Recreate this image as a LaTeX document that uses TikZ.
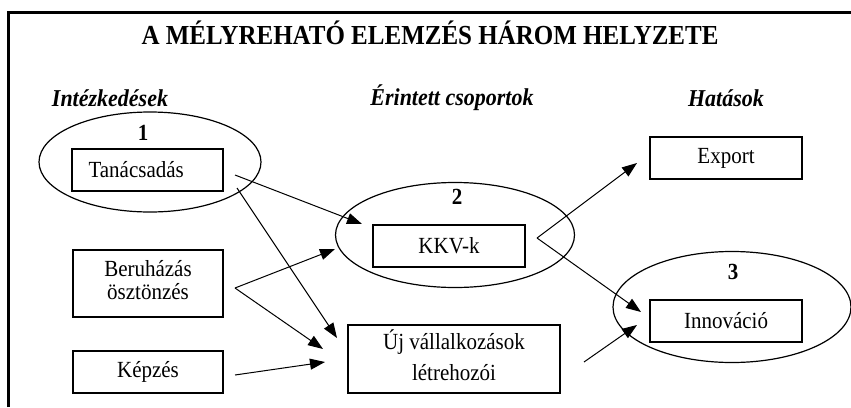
\documentclass[tikz,border=0pt]{standalone}
\usepackage{fontspec}
\usepackage{graphicx}
\setmainfont{Liberation Serif}
\usetikzlibrary{shapes.geometric,arrows.meta}
% slightly tall lettering, one or more centred lines
\newcommand{\tallc}[1]{\scalebox{1}[1.1]{\begin{tabular}{@{}c@{}}#1\end{tabular}}}
\newcommand{\talll}[1]{\scalebox{1}[1.1]{#1}}
\begin{document}
\begin{tikzpicture}[x=1pt,y=-1pt,
  body/.style={font=\fontsize{21}{20}\selectfont},
  heading/.style={font=\fontsize{22}{25}\selectfont\bfseries\itshape},
  numlabel/.style={font=\fontsize{21}{25}\selectfont\bfseries},
  box/.style={draw, line width=1.2pt, rectangle, inner sep=0pt, body, align=center},
  group/.style={draw, line width=1.2pt, ellipse, inner sep=0pt},
  link/.style={line width=1pt, -{Triangle[length=15pt,width=11pt]}}
]
\useasboundingbox (0,0) rectangle (851,407);
\fill[white] (0,0) rectangle (851,407);

% open frame: top and left edges only
\coordinate (fbl) at (8,407);
\coordinate (ftl) at (8,12);
\coordinate (ftr) at (851,12);
\draw[line width=3pt] (fbl) -- (ftl) -- (ftr);

% title and column headings
\node[font=\fontsize{25}{30}\selectfont\bfseries] (title) at (430,33) {\talll{A MÉLYREHATÓ ELEMZÉS HÁROM HELYZETE}};
\node[heading] (hmeasures) at (110,98) {\talll{Intézkedések}};
\node[heading] (hgroups) at (452,98) {\talll{Érintett csoportok}};
\node[heading] (heffects) at (726,98) {\talll{Hatások}};

% the three situations
\node[group, minimum width=222pt, minimum height=100pt] (e1) at (150,162) {};
\node[group, minimum width=239pt, minimum height=105pt] (e2) at (455,235) {};
\node[group, minimum width=238pt, minimum height=111pt] (e3) at (732,307) {};
\node[numlabel] (n1) at (143,133) {\talll{1}};
\node[numlabel] (n2) at (457,197) {\talll{2}};
\node[numlabel] (n3) at (733,272) {\talll{3}};

% measures
\node[box, minimum height=42pt, text width=118pt, align=left, inner xsep=16.5pt] (tan) at (147.5,170) {\talll{Tanácsadás}};
\node[box, minimum width=150pt, minimum height=67pt] (ber) at (148,283.5) {\tallc{Beruházás\\ösztönzés}};
\node[box, minimum width=150pt, minimum height=42pt] (kep) at (148,372) {\talll{Képzés}};

% affected groups
\node[box, minimum width=152pt, minimum height=42pt] (kkv) at (449,246) {\talll{KKV-k}};
\node[box, minimum width=212pt, minimum height=68pt, font=\fontsize{21}{28}\selectfont] (uj) at (454,359) {\tallc{Új vállalkozások\\létrehozói}};

% effects
\node[box, minimum width=152pt, minimum height=42pt] (exp) at (726,158) {\talll{Export}};
\node[box, minimum width=152pt, minimum height=42pt] (inn) at (726,321) {\talll{Innováció}};

% connector end points
\coordinate (tanA) at (235,175);
\coordinate (tanB) at (237,188);
\coordinate (berA) at (235,288);
\coordinate (kepA) at (235,375);
\coordinate (kkvA) at (537,238);
\coordinate (ujA)  at (584,362);
\coordinate (toKkv1) at (362,224);
\coordinate (toKkv2) at (335,249);
\coordinate (toUj1) at (337,338);
\coordinate (toUj2) at (323,349);
\coordinate (toUj3) at (325,362);
\coordinate (toExp) at (637,163);
\coordinate (toInn1) at (641,312);
\coordinate (toInn2) at (637,325);

\draw[link] (tanA) -- (toKkv1);
\draw[link] (tanB) -- (toUj1);
\draw[link] (berA) -- (toKkv2);
\draw[link] (berA) -- (toUj2);
\draw[link] (kepA) -- (toUj3);
\draw[link] (kkvA) -- (toExp);
\draw[link] (kkvA) -- (toInn1);
\draw[link] (ujA) -- (toInn2);
\end{tikzpicture}
\end{document}
